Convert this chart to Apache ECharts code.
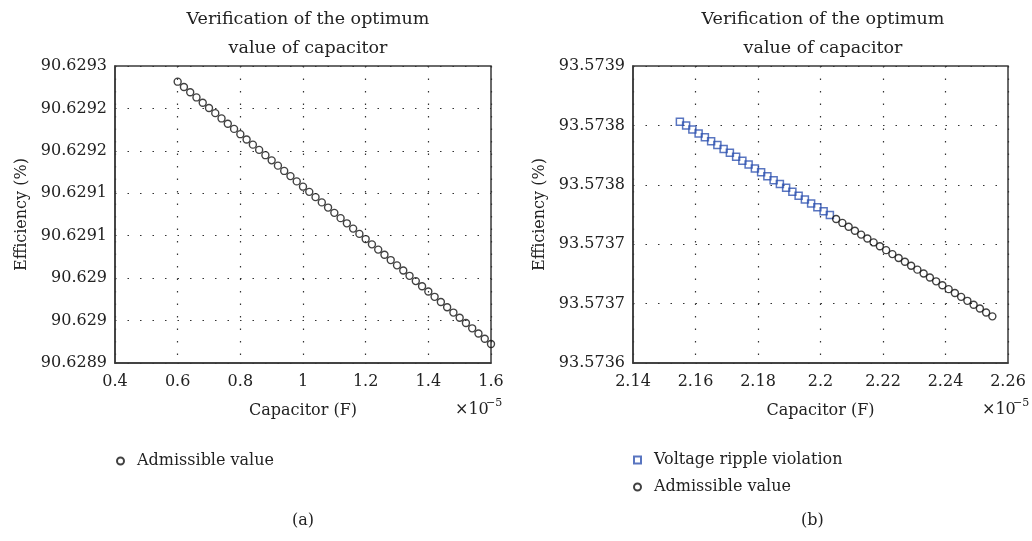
<!DOCTYPE html>
<html>
<head>
<meta charset="utf-8">
<script src="https://cdn.jsdelivr.net/npm/echarts@6/dist/echarts.min.js"></script>
<style>
html, body { margin: 0; padding: 0; background: #fff; }
#chart { width: 1032px; height: 541px; }
</style>
</head>
<body>
<div id="chart"></div>
<script>
// (a) capacitor in units of 1e-5 F, efficiency in %
const capA = [0.60, 0.62, 0.64, 0.66, 0.68, 0.70, 0.72, 0.74, 0.76, 0.78,
  0.80, 0.82, 0.84, 0.86, 0.88, 0.90, 0.92, 0.94, 0.96, 0.98,
  1.00, 1.02, 1.04, 1.06, 1.08, 1.10, 1.12, 1.14, 1.16, 1.18,
  1.20, 1.22, 1.24, 1.26, 1.28, 1.30, 1.32, 1.34, 1.36, 1.38,
  1.40, 1.42, 1.44, 1.46, 1.48, 1.50, 1.52, 1.54, 1.56, 1.58, 1.60]
const effA = [90.6292789, 90.6292718, 90.6292647, 90.6292577, 90.6292506,
  90.6292435, 90.6292365, 90.6292294, 90.6292223, 90.6292153,
  90.6292082, 90.6292011, 90.6291941, 90.6291870, 90.6291799,
  90.6291729, 90.6291658, 90.6291587, 90.6291517, 90.6291446,
  90.6291375, 90.6291305, 90.6291234, 90.6291163, 90.6291093,
  90.6291022, 90.6290951, 90.6290881, 90.6290810, 90.6290739,
  90.6290669, 90.6290598, 90.6290527, 90.6290457, 90.6290386,
  90.6290315, 90.6290245, 90.6290174, 90.6290103, 90.6290033,
  90.6289962, 90.6289891, 90.6289821, 90.6289750, 90.6289679,
  90.6289609, 90.6289538, 90.6289467, 90.6289397, 90.6289326, 90.6289255]

// (b) voltage ripple violation and admissible points
const capViolation = [2.155, 2.157, 2.159, 2.161, 2.163, 2.165, 2.167, 2.169, 2.171, 2.173,
  2.175, 2.177, 2.179, 2.181, 2.183, 2.185, 2.187, 2.189, 2.191, 2.193,
  2.195, 2.197, 2.199, 2.201, 2.203]
const effViolation = [93.5738437, 93.5738398, 93.5738359, 93.5738319, 93.5738280,
  93.5738241, 93.5738201, 93.5738162, 93.5738123, 93.5738083,
  93.5738044, 93.5738005, 93.5737965, 93.5737926, 93.5737887,
  93.5737847, 93.5737808, 93.5737769, 93.5737729, 93.5737690,
  93.5737651, 93.5737611, 93.5737572, 93.5737533, 93.5737494]
const capAdmissible = [2.205, 2.207, 2.209, 2.211, 2.213, 2.215, 2.217, 2.219, 2.221, 2.223,
  2.225, 2.227, 2.229, 2.231, 2.233, 2.235, 2.237, 2.239, 2.241, 2.243,
  2.245, 2.247, 2.249, 2.251, 2.253, 2.255]
const effAdmissible = [93.5737454, 93.5737415, 93.5737376, 93.5737336, 93.5737297,
  93.5737258, 93.5737218, 93.5737179, 93.5737140, 93.5737100,
  93.5737061, 93.5737022, 93.5736982, 93.5736943, 93.5736904,
  93.5736864, 93.5736825, 93.5736786, 93.5736746, 93.5736707,
  93.5736668, 93.5736628, 93.5736589, 93.5736550, 93.5736510, 93.5736471]

// tick values
const xTicksA = [0.4, 0.6, 0.8, 1, 1.2, 1.4, 1.6]
const yTicksA = [90.6289, 90.6289571, 90.6290143, 90.6290714, 90.6291286, 90.6291857, 90.6292429, 90.6293]
const xTicksB = [2.14, 2.16, 2.18, 2.2, 2.22, 2.24, 2.26]
const yTicksB = [93.5736, 93.57366, 93.57372, 93.57378, 93.57384, 93.5739]

const FONT = 'DejaVu Serif'
const TXT = '#222'

const pairs = (xs, ys) => xs.map((x, i) => [x, ys[i]])
const fmt4 = (v) => String(Number(v.toFixed(4)))

const axisBase = (gridIndex, ticks) => ({
	type: 'value',
	gridIndex: gridIndex,
	min: ticks[0],
	max: ticks[ticks.length - 1],
	axisLine: { show: true, lineStyle: { color: '#3a3a3a', width: 1.5 } },
	axisTick: { show: false, customValues: ticks },
	splitLine: { show: true, lineStyle: { type: [1.5, 11], color: '#333', width: 1.2 } },
	nameLocation: 'middle',
	nameTextStyle: { color: TXT, fontFamily: FONT, fontSize: 16 }
})

const xAxisOf = (gridIndex, ticks) => Object.assign(axisBase(gridIndex, ticks), {
	name: 'Capacitor (F)',
	nameGap: 40,
	axisLabel: { customValues: ticks, color: TXT, fontFamily: FONT, fontSize: 16, margin: 11 }
})

const yAxisOf = (gridIndex, ticks) => Object.assign(axisBase(gridIndex, ticks), {
	name: 'Efficiency (%)',
	nameGap: 85,
	axisLabel: { customValues: ticks, color: TXT, fontFamily: FONT, fontSize: 16, margin: 8, formatter: fmt4 }
})

const circleStyle = { color: 'rgba(0,0,0,0)', borderColor: '#111', borderWidth: 1.4 }
const squareStyle = { color: 'rgba(0,0,0,0)', borderColor: '#2F52B0', borderWidth: 1.5 }

const titleText = 'Verification of the optimum\nvalue of capacitor'
const titleStyle = { color: TXT, fontFamily: FONT, fontSize: 17.5, fontWeight: 'normal', lineHeight: 29 }
const legendText = { color: TXT, fontFamily: FONT, fontSize: 16, lineHeight: 20, padding: [0, 0, 0, 8] }

const textEl = (x, y, text, size) => ({
	type: 'text', x: x, y: y,
	style: { text: text, fill: TXT, font: size + 'px "' + FONT + '"', textVerticalAlign: 'middle' }
})

const chart = echarts.init(document.getElementById('chart'))
chart.setOption({
	animation: false,
	title: [
		{ text: titleText, left: 303, top: 0, padding: [5, 5], textAlign: 'center', textStyle: titleStyle },
		{ text: titleText, left: 818, top: 0, padding: [5, 5], textAlign: 'center', textStyle: titleStyle }
	],
	grid: [
		{ left: 115, top: 66, width: 376, height: 297, show: true, borderColor: '#3a3a3a', borderWidth: 1.5 },
		{ left: 633, top: 66, width: 375, height: 297, show: true, borderColor: '#3a3a3a', borderWidth: 1.5 }
	],
	xAxis: [xAxisOf(0, xTicksA), xAxisOf(1, xTicksB)],
	yAxis: [yAxisOf(0, yTicksA), yAxisOf(1, yTicksB)],
	legend: [
		{
			data: ['Admissible value'], orient: 'vertical', left: 111, top: 446,
			itemWidth: 7, itemHeight: 7, itemGap: 7, selectedMode: false, textStyle: legendText
		},
		{
			data: ['Voltage ripple violation', 'Admissible value'], orient: 'vertical', left: 628, top: 445,
			itemWidth: 7, itemHeight: 7, itemGap: 7, selectedMode: false, textStyle: legendText
		}
	],
	graphic: [
		textEl(455, 410, '×10', 16), textEl(486, 403, '−5', 11),
		textEl(982, 410, '×10', 16), textEl(1013, 403, '−5', 11),
		textEl(292, 521, '(a)', 16), textEl(801, 521, '(b)', 16)
	],
	series: [
		{
			name: 'Admissible value', type: 'scatter', xAxisIndex: 0, yAxisIndex: 0,
			data: pairs(capA, effA), symbol: 'circle', symbolSize: 7, itemStyle: circleStyle
		},
		{
			name: 'Voltage ripple violation', type: 'scatter', xAxisIndex: 1, yAxisIndex: 1,
			data: pairs(capViolation, effViolation), symbol: 'rect', symbolSize: 7, itemStyle: squareStyle
		},
		{
			name: 'Admissible value', type: 'scatter', xAxisIndex: 1, yAxisIndex: 1,
			data: pairs(capAdmissible, effAdmissible), symbol: 'circle', symbolSize: 7, itemStyle: circleStyle
		}
	]
})
</script>
</body>
</html>
